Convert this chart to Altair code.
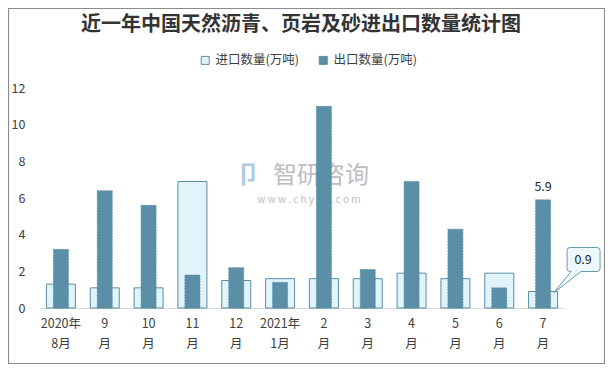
import altair as alt
import pandas as pd

months = ["2020年\n8月", "9\n月", "10\n月", "11\n月", "12\n月", "2021年\n1月",
          "2\n月", "3\n月", "4\n月", "5\n月", "6\n月", "7\n月"]
imports = [1.3, 1.1, 1.1, 6.9, 1.5, 1.6, 1.6, 1.6, 1.9, 1.6, 1.9, 0.9]
exports = [3.2, 6.4, 5.6, 1.8, 2.2, 1.4, 11.0, 2.1, 6.9, 4.3, 1.1, 5.9]
series = ["进口数量(万吨)", "出口数量(万吨)"]
title_text = "近一年中国天然沥青、页岩及砂进出口数量统计图"

FONT = "Noto Sans CJK SC"
DARK = "#5b8fa7"
LIGHT = "#e1f4fa"
EDGE = "#5b8da6"

df = pd.DataFrame({"month": months, "imp": imports, "exp": exports})
last = df.iloc[[-1]]

x = alt.X("month:N", sort=months, title=None,
          axis=alt.Axis(labelExpr="split(datum.value, '\\n')", labelAngle=0,
                        ticks=False, domainColor="#d9d9d9", labelPadding=9,
                        labelLineHeight=20, labelFontSize=12.5, labelColor="#404040",
                        labelFont=FONT))
yscale = alt.Scale(domain=[0, 12])
yaxis = alt.Axis(values=[0, 2, 4, 6, 8, 10, 12], ticks=False, domain=False, grid=False,
                 labelOverlap=False, labelPadding=14, labelFontSize=12.5,
                 labelColor="#404040", labelFont=FONT)
cscale = alt.Scale(domain=series, range=[LIGHT, DARK])
clegend = alt.Legend(title=None, orient="none", direction="horizontal",
                     legendX=160, legendY=-34, symbolType="square",
                     symbolSize=64, symbolStrokeColor=EDGE,
                     symbolStrokeWidth=1, labelFont=FONT,
                     labelFontSize=12.5, labelColor="#404040",
                     columnPadding=18, labelOffset=4)
color = alt.Color("s:N", scale=cscale, legend=clegend)

base = alt.Chart(df)
one = alt.Data(values=[{}])

border = alt.Chart(one).mark_rect(
    fill=None, stroke="#8c8c8c", strokeWidth=1.2
).encode(x=alt.value(-30.5), x2=alt.value(565.5), y=alt.value(-79.5), y2=alt.value(275.5))

title = alt.Chart(one).mark_text(
    text=title_text, font=FONT, fontSize=20, fontWeight="bold", color="#333333",
    align="center", baseline="middle"
).encode(x=alt.value(262), y=alt.value(-63))

wm = alt.Chart(one).mark_text(
    text="智研咨询", font=FONT, fontSize=24, color="#b3b3b3", opacity=0.85
).encode(x=alt.value(282), y=alt.value(88))
wm2 = alt.Chart(one).mark_text(
    text="w w w . c h y x x . c o m", font=FONT, fontSize=10, color="#b3b3b3", opacity=0.85
).encode(x=alt.value(270), y=alt.value(112))
logo = alt.Chart(one).mark_text(
    text="卩", font=FONT, fontSize=24, fontWeight="bold", color="#a9c6e0", opacity=0.9
).encode(x=alt.value(209), y=alt.value(88))

imp_bar = base.transform_calculate(s=f"'{series[0]}'").mark_bar(
    size=29, stroke=EDGE, strokeWidth=1).encode(
    x=x, y=alt.Y("imp:Q", scale=yscale, axis=yaxis, title=None), color=color)
exp_bar = base.transform_calculate(s=f"'{series[1]}'").mark_bar(
    size=15, stroke="#5286a0", strokeWidth=0.7, strokeDash=[2, 1]).encode(
    x=x, y=alt.Y("exp:Q", scale=yscale, axis=yaxis, title=None), color=color)

lab59 = alt.Chart(last).mark_text(font=FONT, fontSize=12.5, color="#262626",
                                  baseline="middle", dy=-13).encode(
    x=x, y=alt.Y("exp:Q", scale=yscale, axis=yaxis, title=None),
    text=alt.Text("exp:Q", format=".1f"))

callout_path = ("M 2.7 -4.4 L 5.4 -4.4 Q 5.7 -4.4 5.7 -4.1 L 5.7 -2.3 Q 5.7 -2.0 5.4 -2.0 "
                "L 3.8 -2.0 L 1.1 0.1 L 2.8 -2.0 L 2.7 -2.0 Q 2.4 -2.0 2.4 -2.3 "
                "L 2.4 -4.1 Q 2.4 -4.4 2.7 -4.4 Z")
callout = alt.Chart(last).mark_point(shape=callout_path, size=400, filled=True,
                                     fill="#eef8fb", stroke="#6a9bb3", strokeWidth=1,
                                     opacity=1).encode(
    x=x, y=alt.Y("imp:Q", scale=yscale, axis=yaxis, title=None))
lab09 = alt.Chart(last).mark_text(font=FONT, fontSize=12.5, color="#262626",
                                  baseline="middle", dx=40, dy=-32).encode(
    x=x, y=alt.Y("imp:Q", scale=yscale, axis=yaxis, title=None),
    text=alt.Text("imp:Q", format=".1f"))

chart = alt.layer(border, title, logo, wm, wm2, imp_bar, exp_bar, lab59, callout, lab09).properties(
    width=526, height=220,
    padding={"left": 31, "top": 80, "right": 40, "bottom": 56},
    autosize=alt.AutoSizeParams(type="none"),
).configure_view(stroke=None)

chart.save("out.html", embed_options={"renderer": "svg", "actions": False})
